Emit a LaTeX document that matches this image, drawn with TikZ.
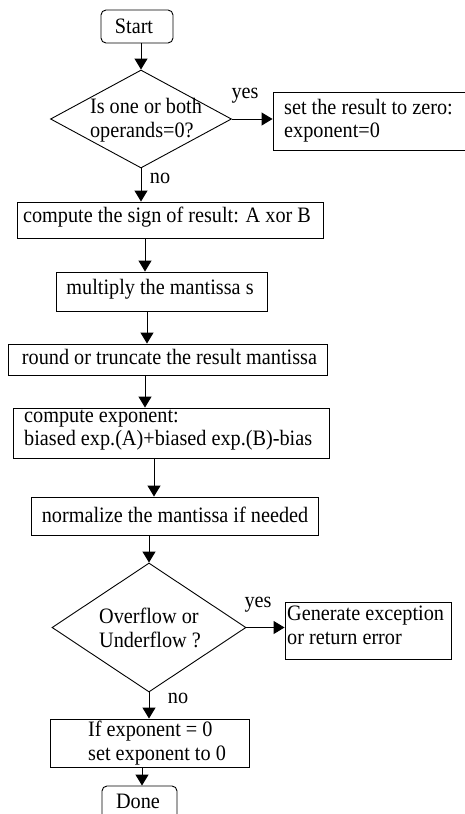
\documentclass[tikz,border=0pt]{standalone}
\usepackage{fontspec}
\setmainfont{Liberation Serif}[FakeStretch=0.92]
\usetikzlibrary{shapes.geometric,arrows.meta}
\begin{document}
\begin{tikzpicture}[x=1pt,y=-1pt,
  every node/.style={font=\fontsize{22}{23.5}\selectfont, inner sep=0pt},
  box/.style={draw, line width=0.9pt, rectangle},
  term/.style={draw, line width=0.9pt, rectangle, rounded corners=5pt},
  dia/.style={draw, line width=0.9pt, diamond, inner sep=0pt},
  txt/.style={align=left},
  arr/.style={line width=1pt, -{Triangle[width=13pt,length=11pt]}}
]
\useasboundingbox[fill=white] (0,0) rectangle (464,814);

% Start
\node[term, minimum width=72, minimum height=33] (start) at (137,26.5) {};
\node at (134,26) {Start};

% decision 1
\node[dia, minimum width=181, minimum height=98] (d1) at (141,119) {};
\node[txt] (d1t) at (146,120) {Is one or both\\operands=0?};

% set result to zero
\node[box, minimum width=197, minimum height=58] (set) at (371.5,121) {};
\node[txt, anchor=west] (sett) at (284,120.5) {set the result to zero:\\exponent=0};

\node (yes1) at (245,96) {yes};
\node (no1) at (160,178) {no};

% sign
\node[box, minimum width=306, minimum height=36] (sign) at (170,220) {};
\node (signt) at (167,217) {compute the sign of result: A xor B};

% multiply
\node[box, minimum width=211, minimum height=39] (mult) at (161.5,291.5) {};
\node (multt) at (160,289) {multiply the mantissa s};

% round
\node[box, minimum width=319, minimum height=31] (round) at (167.5,359.5) {};
\node (roundt) at (169.5,357) {round or truncate the result mantissa};

% exponent
\node[box, minimum width=316, minimum height=50] (exp) at (171,433) {};
\node[txt, anchor=west] (expt) at (24,430) {compute exponent:\\biased exp.(A)+biased exp.(B)-bias};

% normalize
\node[box, minimum width=287, minimum height=38] (norm) at (174.5,516) {};
\node (normt) at (175,515) {normalize the mantissa if needed};

% decision 2
\node[dia, minimum width=194, minimum height=129] (d2) at (149,627.5) {};
\node[txt] (d2t) at (150,628) {Overflow or\\Underflow ?};

% generate exception
\node[box, minimum width=166, minimum height=57] (gen) at (368,630.5) {};
\node[txt, anchor=west] (gent) at (287,625.5) {Generate exception\\or return error};

\node (yes2) at (258,605) {yes};
\node (no2) at (178,698) {no};

% if exponent
\node[box, minimum width=199, minimum height=48] (ifx) at (149.5,743) {};
\node[txt] (ifxt) at (157,743) {If exponent = 0\\set exponent to 0};

% done
\node[term, minimum width=75, minimum height=40] (done) at (139.5,806) {};
\node (donet) at (138,801) {Done};

% connectors
\draw[arr] (start.south -| d1.north) -- (d1.north);
\draw[arr] (d1.east) -- (set.west |- d1.east);
\draw[arr] (d1.south) -- (d1.south |- sign.north);
\draw[arr] (sign.south -| 145,0) -- (mult.north -| 145,0);
\draw[arr] (mult.south -| 147,0) -- (round.north -| 147,0);
\draw[arr] (round.south -| 145,0) -- (exp.north -| 145,0);
\draw[arr] (exp.south -| 154,0) -- (norm.north -| 154,0);
\draw[arr] (norm.south -| d2.north) -- (d2.north);
\draw[arr] (d2.east) -- (gen.west |- d2.east);
\draw[arr] (d2.south) -- (d2.south |- ifx.north);
\draw[arr] (ifx.south -| 142,0) -- (done.north -| 142,0);
\end{tikzpicture}
\end{document}
